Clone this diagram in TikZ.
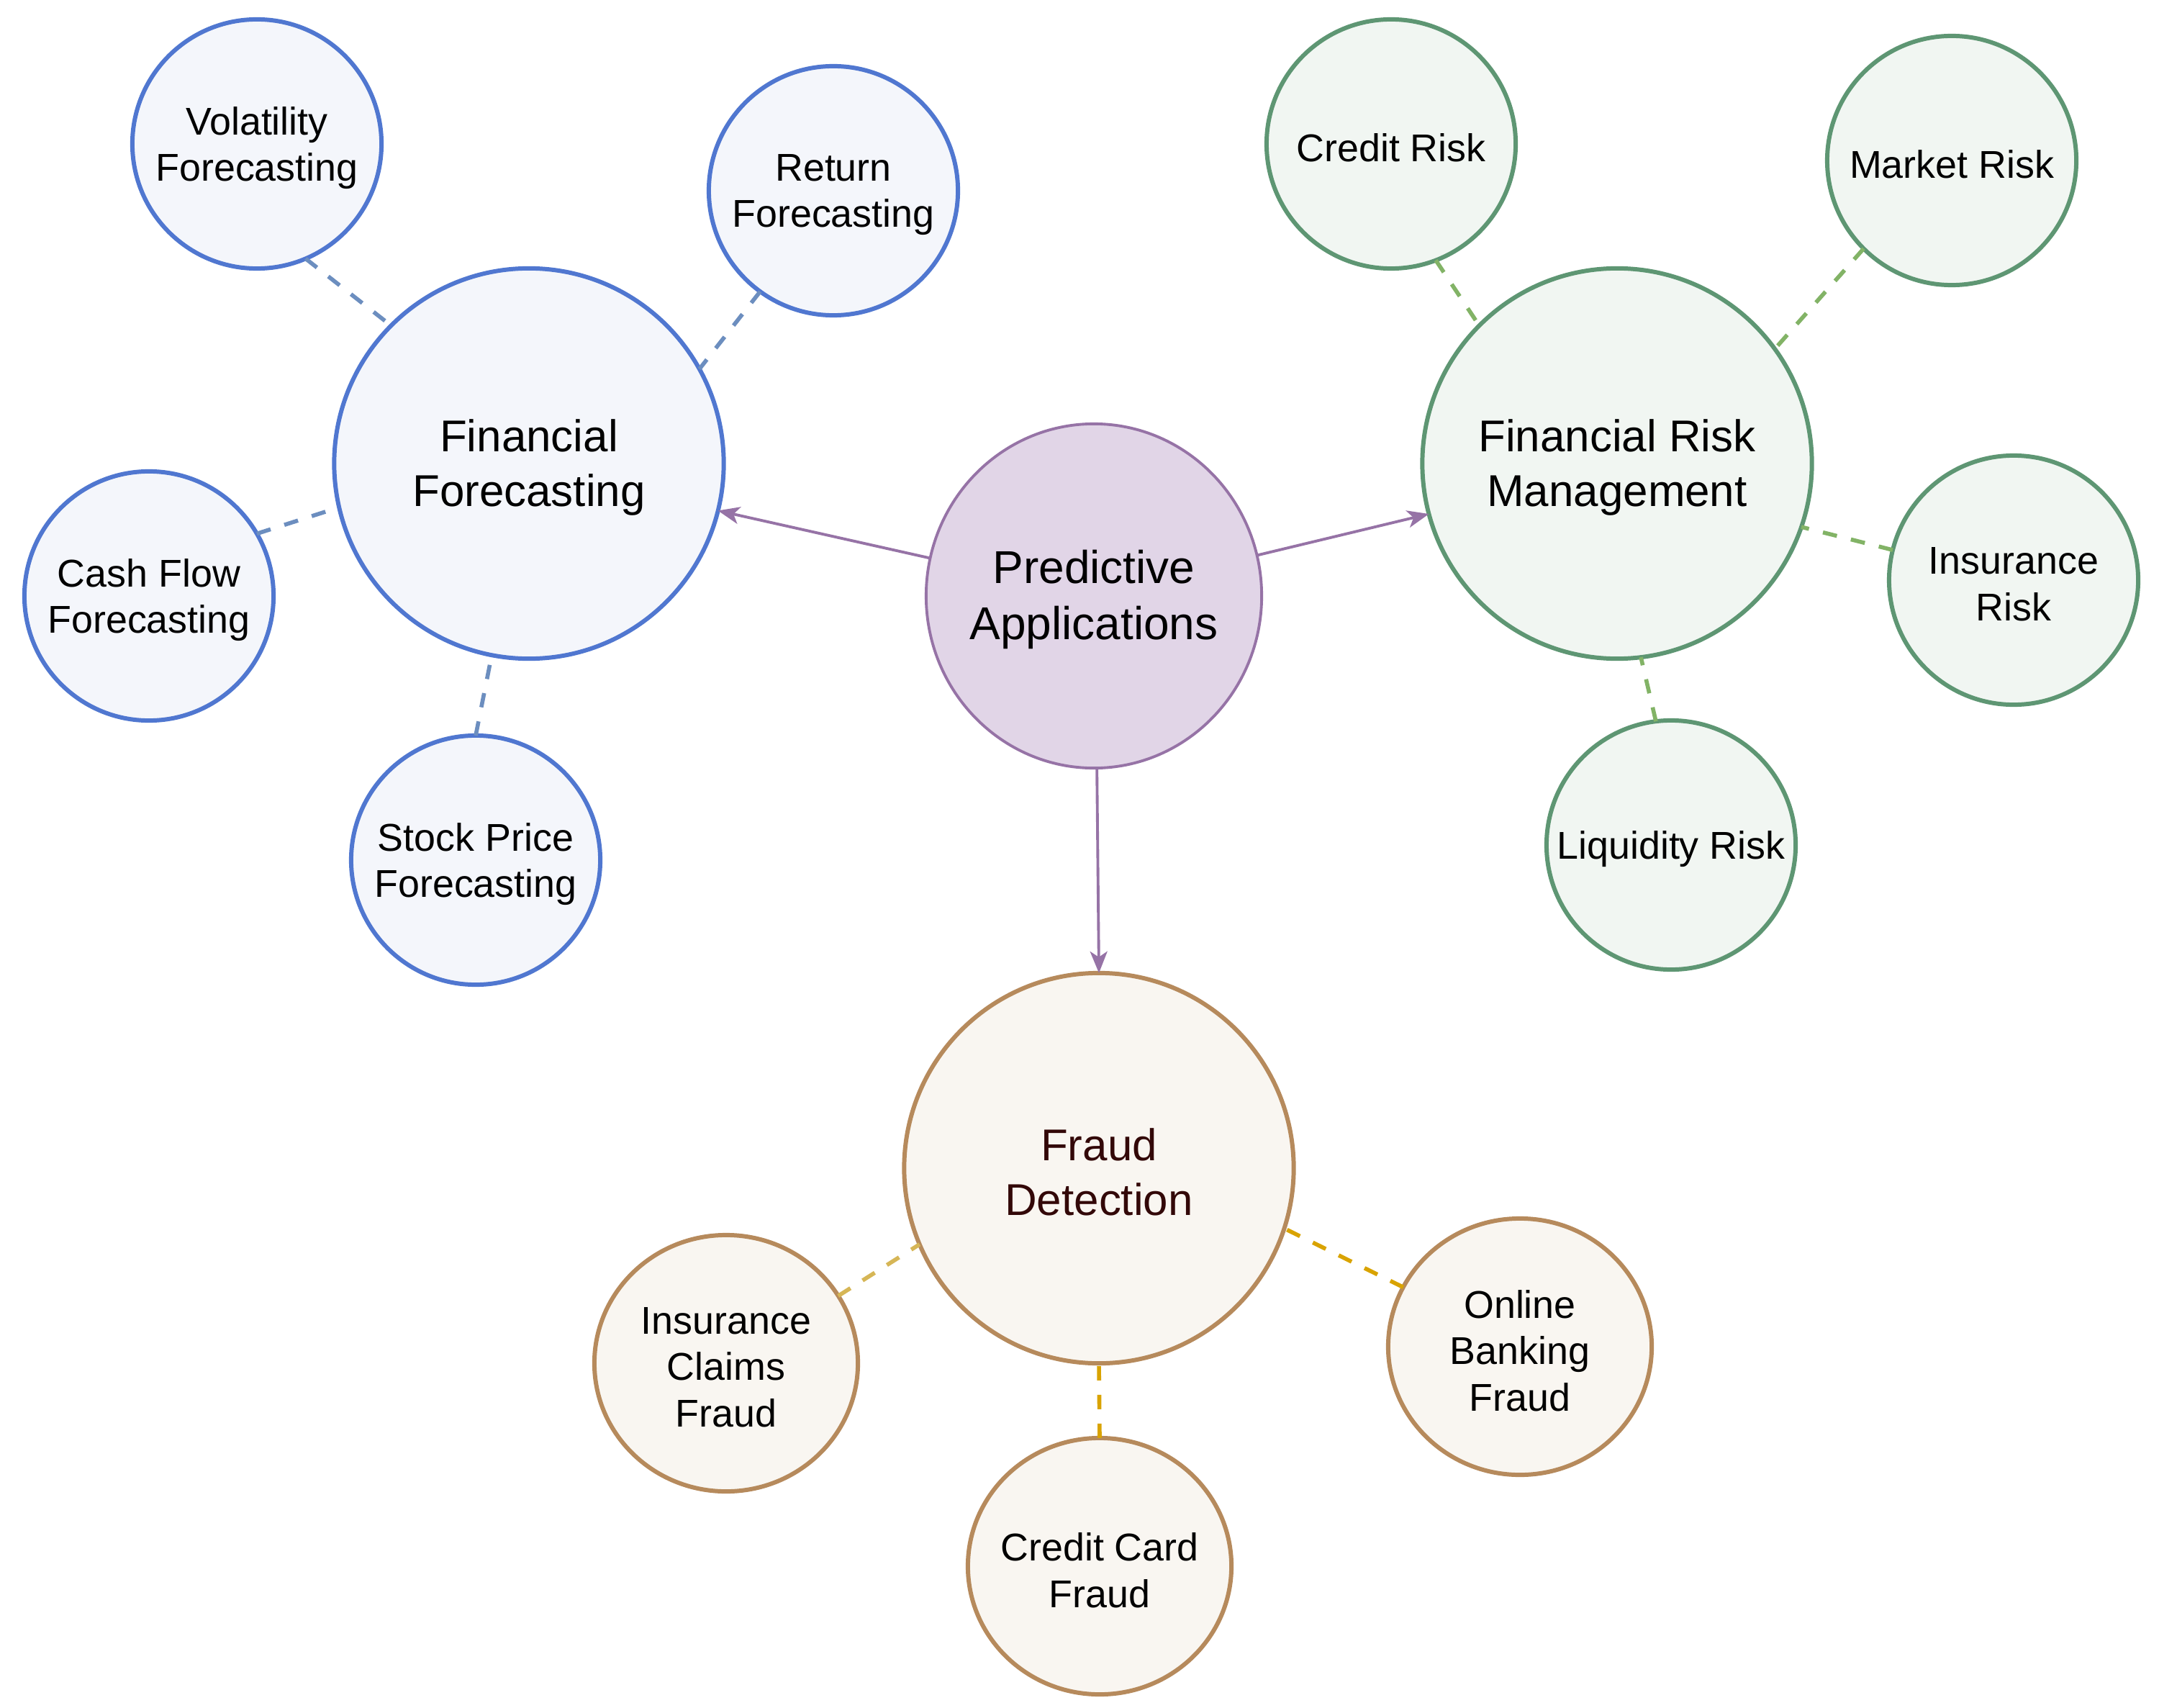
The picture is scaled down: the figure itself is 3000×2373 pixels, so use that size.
\documentclass[tikz,border=0pt]{standalone}
\usepackage{fontspec}
\setmainfont{Liberation Sans}
\usetikzlibrary{arrows.meta,shapes.geometric}
\definecolor{blueS}{HTML}{5077D0}
\definecolor{blueF}{HTML}{F4F6FB}
\definecolor{blueD}{HTML}{6C8EBF}
\definecolor{greenS}{HTML}{5E9673}
\definecolor{greenF}{HTML}{F1F6F2}
\definecolor{greenD}{HTML}{82B366}
\definecolor{purpS}{HTML}{9673A6}
\definecolor{purpF}{HTML}{E1D5E7}
\definecolor{brownS}{HTML}{B68A5C}
\definecolor{brownF}{HTML}{F9F6F1}
\definecolor{goldD}{HTML}{D9A300}
\definecolor{goldL}{HTML}{D6B656}
\definecolor{fdText}{HTML}{330808}
\begin{document}
\begin{tikzpicture}[x=0.01cm,y=-0.01cm,
  base/.style={ellipse, inner sep=0pt, outer sep=0pt, line width=1.7pt},
  big/.style={base, minimum width=5.41cm, minimum height=5.42cm},
  small/.style={base, minimum width=3.46cm, minimum height=3.46cm},
  fsmall/.style={base, minimum width=3.66cm, minimum height=3.56cm},
  bigtxt/.style={align=center, yshift=-0.055cm, font=\fontsize{17.6}{21.8}\selectfont},
  patxt/.style={align=center, yshift=-0.045cm, font=\fontsize{18.2}{22.2}\selectfont},
  smalltxt/.style={align=center, yshift=-0.055cm, font=\fontsize{15.3}{18.4}\selectfont},
  blueN/.style={draw=blueS, fill=blueF},
  greenN/.style={draw=greenS, fill=greenF},
  brownN/.style={draw=brownS, fill=brownF},
  dashline/.style={line width=1.6pt, dash pattern=on 0.2cm off 0.2cm},
  dblue/.style={dashline, draw=blueD},
  dgreen/.style={dashline, draw=greenD},
  dgold/.style={dashline, draw=goldD},
  dgoldL/.style={dashline, draw=goldL},
  arr/.style={draw=purpS, line width=1.1pt, -{Stealth[length=0.3cm, width=0.24cm, inset=0.08cm]}}
]
\useasboundingbox (0,0) rectangle (3000,2373);

% centre
\node[base, draw=purpS, fill=purpF, line width=1.1pt, minimum width=4.66cm, minimum height=4.78cm,
  label={[patxt]center:Predictive\\Applications}] (pa) at (1520,828) {};

% Financial Forecasting cluster
\node[big, blueN, label={[bigtxt]center:Financial\\Forecasting}] (ff) at (735,644) {};
\node[small, blueN, label={[smalltxt]center:Volatility\\Forecasting}] (vol) at (357,200) {};
\node[small, blueN, label={[smalltxt]center:Return\\Forecasting}] (ret) at (1158,265) {};
\node[small, blueN, label={[smalltxt]center:Cash Flow\\Forecasting}] (cf) at (207,828) {};
\node[small, blueN, label={[smalltxt]center:Stock Price\\Forecasting}] (sp) at (661,1195) {};

% Financial Risk Management cluster
\node[big, greenN, label={[bigtxt]center:Financial Risk\\Management}] (frm) at (2247,644) {};
\node[small, greenN, label={[smalltxt]center:Credit Risk}] (cr) at (1933,200) {};
\node[small, greenN, label={[smalltxt]center:Market Risk}] (mr) at (2712,223) {};
\node[small, greenN, label={[smalltxt]center:Insurance\\Risk}] (ir) at (2798,806) {};
\node[small, greenN, label={[smalltxt]center:Liquidity Risk}] (lr) at (2322,1174) {};

% Fraud Detection cluster
\node[big, brownN, label={[bigtxt, text=fdText]center:Fraud\\Detection}] (fd) at (1527,1623) {};
\node[fsmall, brownN, label={[smalltxt]center:Insurance\\Claims\\Fraud}] (icf) at (1009,1894) {};
\node[fsmall, brownN, label={[smalltxt]center:Credit Card\\Fraud}] (ccf) at (1528,2176) {};
\node[fsmall, brownN, label={[smalltxt]center:Online\\Banking\\Fraud}] (obf) at (2112,1871) {};

% dashed links
\draw[dblue] (vol.-67) -- (ff.135);
\draw[dblue] (ret.-126) -- (ff.29);
\draw[dblue] (cf.30) -- (ff.-167);
\draw[dblue] (sp.90) -- (ff.-101);
\draw[dgreen] (cr.-69) -- (frm.135);
\draw[dgreen] (mr.-135) -- (frm.36);
\draw[dgreen] (ir.166) -- (frm.-19);
\draw[dgreen] (lr.97) -- (frm.-83);
\draw[dgoldL] (icf.31) -- (fd.-157);
\draw[dgold] (ccf.90) -- (fd.-90);
\draw[dgold] (obf.153) -- (fd.-18);

% arrows
\draw[arr] (pa.167) -- (ff.-14);
\draw[arr] (pa.14) -- (frm.-165);
\draw[arr] (pa.-89) -- (fd.90);
\end{tikzpicture}
\end{document}
